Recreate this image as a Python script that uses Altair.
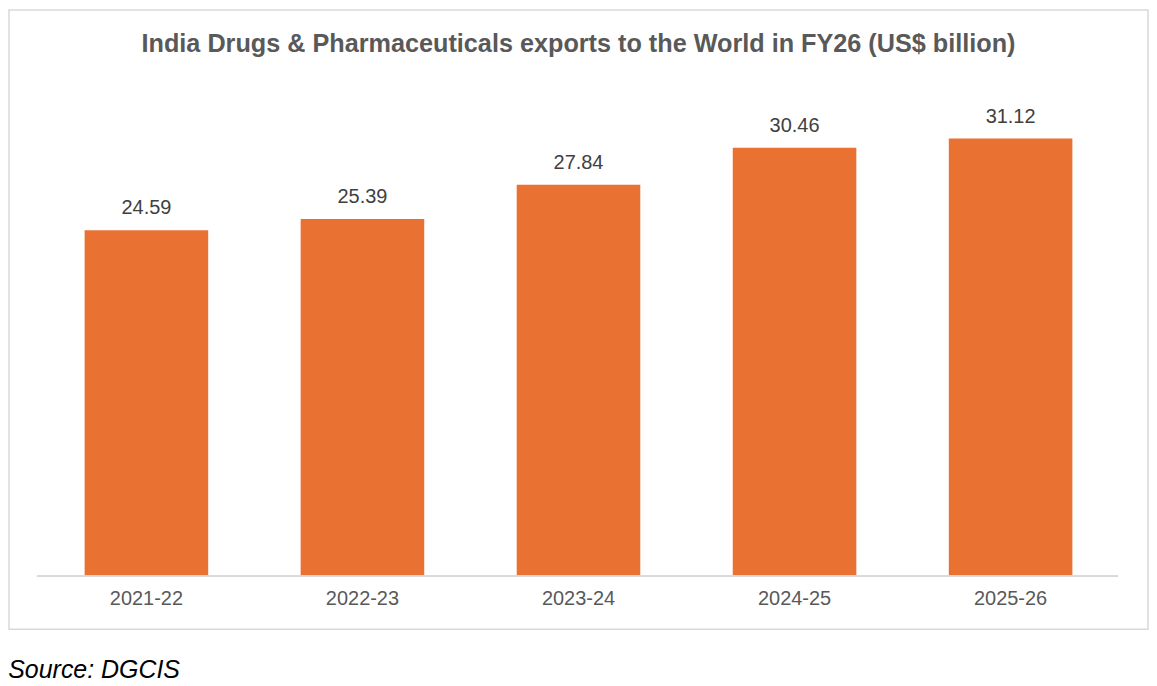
import altair as alt
import pandas as pd

years = ["2021-22", "2022-23", "2023-24", "2024-25", "2025-26"]
exports = [24.59, 25.39, 27.84, 30.46, 31.12]

FONT = "Liberation Sans"

df = pd.DataFrame({"year": years, "exports": exports})

y_scale = alt.Scale(domain=[-3.76, 40.26], nice=False, zero=False)

base = alt.Chart(df).encode(
    x=alt.X(
        "year:N",
        sort=years,
        title=None,
        scale=alt.Scale(paddingInner=0.428, paddingOuter=0.35),
        axis=alt.Axis(
            orient="bottom",
            offset=-53,
            domain=False,
            ticks=False,
            labelAngle=0,
            labelFont=FONT,
            labelFontSize=20,
            labelColor="#595959",
            labelPadding=12,
        ),
    ),
    y=alt.Y("exports:Q", scale=y_scale, axis=None),
)

bars = base.mark_bar(color="#E97132").encode(y2=alt.datum(0))

labels = base.mark_text(
    dy=-16, baseline="alphabetic", fontSize=20, color="#404040", font=FONT
).encode(text=alt.Text("exports:Q", format=".2f"))

# category axis line, narrower than the framed box
baseline = (
    alt.Chart(df)
    .transform_calculate(zero="0")
    .mark_rule(color="#d9d9d9", strokeWidth=1.5)
    .encode(
        x=alt.value(28),
        x2=alt.value(1112),
        y=alt.Y("zero:Q", scale=y_scale, axis=None),
    )
)

main = alt.layer(bars, baseline, labels).properties(
    width=1142,
    height=621,
    title=alt.TitleParams(
        "India Drugs & Pharmaceuticals exports to the World in FY26 (US$ billion)",
        font=FONT,
        fontSize=25.3,
        fontWeight="bold",
        color="#595959",
        anchor="middle",
        offset=-48,
    ),
)

chart = (
    alt.vconcat(main)
    .properties(
        padding=0,
        title=alt.TitleParams(
            "Source: DGCIS",
            orient="bottom",
            anchor="start",
            font=FONT,
            fontSize=25,
            fontStyle="italic",
            fontWeight="normal",
            color="#000000",
            offset=28,
        ),
    )
    .configure_view(stroke="#d9d9d9", strokeWidth=1.5)
)

chart.save("out.html", embed_options={"renderer": "svg", "actions": False})
